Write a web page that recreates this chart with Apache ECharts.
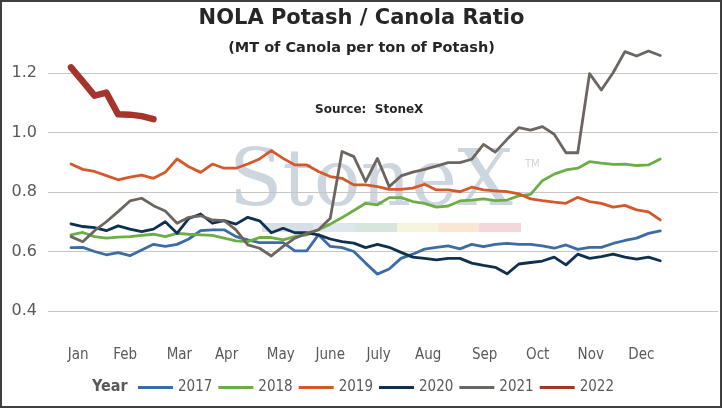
<!DOCTYPE html>
<html>
<head>
<meta charset="utf-8">
<script src="https://cdn.jsdelivr.net/npm/echarts@6/dist/echarts.min.js"></script>
<style>
html,body{margin:0;padding:0;background:#fff;}
#chart{width:723px;height:409px;}
</style>
</head>
<body>
<div id="chart"></div>
<script>
// Weekly observations (week index 0..50)
const years = ['2017','2018','2019','2020','2021','2022'];
const y2017 = [0.613,0.614,0.600,0.589,0.596,0.586,0.605,0.624,0.617,0.624,0.642,0.670,0.673,0.673,0.650,0.639,0.630,0.630,0.630,0.602,0.602,0.656,0.617,0.613,0.600,0.561,0.524,0.541,0.577,0.591,0.608,0.614,0.619,0.609,0.624,0.616,0.624,0.627,0.624,0.624,0.619,0.611,0.622,0.607,0.614,0.614,0.627,0.637,0.645,0.661,0.669];
const y2018 = [0.656,0.664,0.650,0.645,0.648,0.650,0.654,0.658,0.650,0.661,0.658,0.656,0.654,0.645,0.636,0.633,0.647,0.647,0.639,0.650,0.656,0.673,0.692,0.714,0.738,0.762,0.757,0.781,0.781,0.768,0.762,0.749,0.753,0.770,0.773,0.777,0.771,0.773,0.787,0.792,0.838,0.860,0.874,0.880,0.902,0.897,0.893,0.894,0.889,0.891,0.911];
const y2019 = [0.894,0.876,0.869,0.855,0.841,0.850,0.857,0.846,0.866,0.911,0.885,0.866,0.894,0.880,0.880,0.894,0.911,0.939,0.913,0.891,0.891,0.869,0.852,0.846,0.824,0.824,0.818,0.809,0.809,0.813,0.826,0.807,0.807,0.801,0.816,0.807,0.804,0.801,0.794,0.777,0.771,0.766,0.762,0.782,0.768,0.762,0.749,0.755,0.740,0.733,0.706];
const y2020 = [0.693,0.684,0.680,0.670,0.686,0.675,0.667,0.675,0.700,0.661,0.711,0.726,0.695,0.704,0.692,0.715,0.703,0.663,0.678,0.663,0.663,0.656,0.642,0.633,0.628,0.613,0.624,0.614,0.597,0.581,0.577,0.572,0.577,0.577,0.561,0.553,0.547,0.525,0.558,0.563,0.568,0.581,0.555,0.591,0.577,0.583,0.591,0.581,0.574,0.581,0.569];
const y2021 = [0.650,0.633,0.670,0.700,0.734,0.770,0.779,0.754,0.736,0.695,0.715,0.720,0.706,0.704,0.673,0.622,0.611,0.585,0.617,0.645,0.661,0.673,0.712,0.936,0.919,0.835,0.913,0.818,0.854,0.867,0.876,0.887,0.899,0.899,0.910,0.960,0.934,0.977,1.016,1.008,1.020,0.994,0.932,0.932,1.198,1.143,1.201,1.272,1.257,1.274,1.259];
const y2022 = [1.219,1.172,1.124,1.134,1.061,1.060,1.055,1.045];

// Month label positions (in week-index units) and labels
const monthLabels = ['Jan','Feb','Mar','Apr','May','June','July','Aug','Sep','Oct','Nov','Dec'];
const monthPos = [0.6,4.6,9.2,13.2,17.8,22.0,26.1,30.3,35.1,39.6,44.1,48.4];
const yTicks = [0.4,0.6,0.8,1.0,1.2];

const seriesValues = [y2017,y2018,y2019,y2020,y2021,y2022];
const colors = ['#3C6CA6','#6CAE46','#D4592A','#0F3150','#6D6560','#A5342A'];
const widths = [2.8,2.8,2.8,2.8,2.8,6.5];

const chart = echarts.init(document.getElementById('chart'), null, {renderer:'canvas'});

const series = years.map((y, k) => ({
  name: y,
  type: 'line',
  data: seriesValues[k].map((v, i) => [i, v]),
  symbol: 'none',
  clip: false,
  z: 2 + k,
  lineStyle: { color: colors[k], width: widths[k], cap: 'round', join: 'round' },
  itemStyle: { color: colors[k] }
}));

const bandColors = ['#d8dee6','#dde7f1','#d6e6dc','#f7f4dd','#f9e7d3','#f3d7da'];
const bandX = [262,313,355,397,438,479,521];
const bands = bandColors.map((c, i) => ({
  type: 'rect', z: -1, silent: true,
  shape: { x: bandX[i], y: 223, width: bandX[i+1]-bandX[i], height: 9 },
  style: { fill: c }
}));

const option = {
  animation: false,
  backgroundColor: '#ffffff',
  title: [
    { text: 'NOLA Potash / Canola Ratio', left: 'center', top: 8, padding: 0,
      textStyle: { fontFamily: 'DejaVu Sans', fontSize: 21, fontWeight: 'bold', color: '#262626' } },
    { text: '(MT of Canola per ton of Potash)', left: 'center', top: 41, padding: 0,
      textStyle: { fontFamily: 'DejaVu Sans', fontSize: 14.5, fontWeight: 'bold', color: '#262626' } }
  ],
  grid: { left: 48, right: 5, top: 73, bottom: 98, containLabel: false },
  xAxis: {
    type: 'value', min: -1.95, max: 54.9,
    axisLine: { show: false }, axisTick: { show: false }, splitLine: { show: false },
    axisLabel: {
      customValues: monthPos,
      formatter: function (v) {
        let best = 0, bd = 1e9;
        monthPos.forEach((p, i) => { const d = Math.abs(p - v); if (d < bd) { bd = d; best = i; } });
        return monthLabels[best];
      },
      margin: 37,
      fontFamily: 'DejaVu Sans Condensed, Liberation Sans Narrow, sans-serif',
      fontSize: 15, color: '#595959'
    }
  },
  yAxis: {
    type: 'value', min: yTicks[0], max: yTicks[yTicks.length-1], interval: 0.2,
    axisLine: { show: false }, axisTick: { show: false },
    splitLine: { show: true, lineStyle: { color: '#c6c6c6', width: 1 } },
    axisLabel: {
      formatter: v => v.toFixed(1), margin: 11,
      fontFamily: 'DejaVu Sans', fontSize: 16, color: '#595959'
    }
  },
  legend: {
    data: years, left: 138, top: 380, padding: 0,
    icon: 'rect',
    itemWidth: 35, itemHeight: 3, itemGap: 6,
    textStyle: { fontFamily: 'DejaVu Sans Condensed, Liberation Sans Narrow, sans-serif', fontSize: 15, color: '#595959' }
  },
  graphic: [
    { type: 'text', z: -1, silent: true, left: 229, top: 146,
      style: { text: 'StoneX', font: '78px "DejaVu Serif"', fill: '#cdd5df' } },
    { type: 'text', z: -1, silent: true, left: 525, top: 159,
      style: { text: 'TM', font: '10px "DejaVu Sans"', fill: '#cdd5df' } },
    ...bands,
    { type: 'text', left: 315, top: 104,
      style: { text: 'Source:  StoneX', font: 'bold 12px "DejaVu Sans"', fill: '#262626' } },
    { type: 'text', left: 92, top: 379,
      style: { text: 'Year', font: 'bold 16px "DejaVu Sans Condensed", "Liberation Sans Narrow", sans-serif', fill: '#595959' } },
    { type: 'rect', silent: true, z: 100,
      shape: { x: 1, y: 1, width: 720, height: 406 },
      style: { fill: 'none', stroke: '#3f3f3f', lineWidth: 2 } }
  ],
  series: series
};
chart.setOption(option);
</script>
</body>
</html>
